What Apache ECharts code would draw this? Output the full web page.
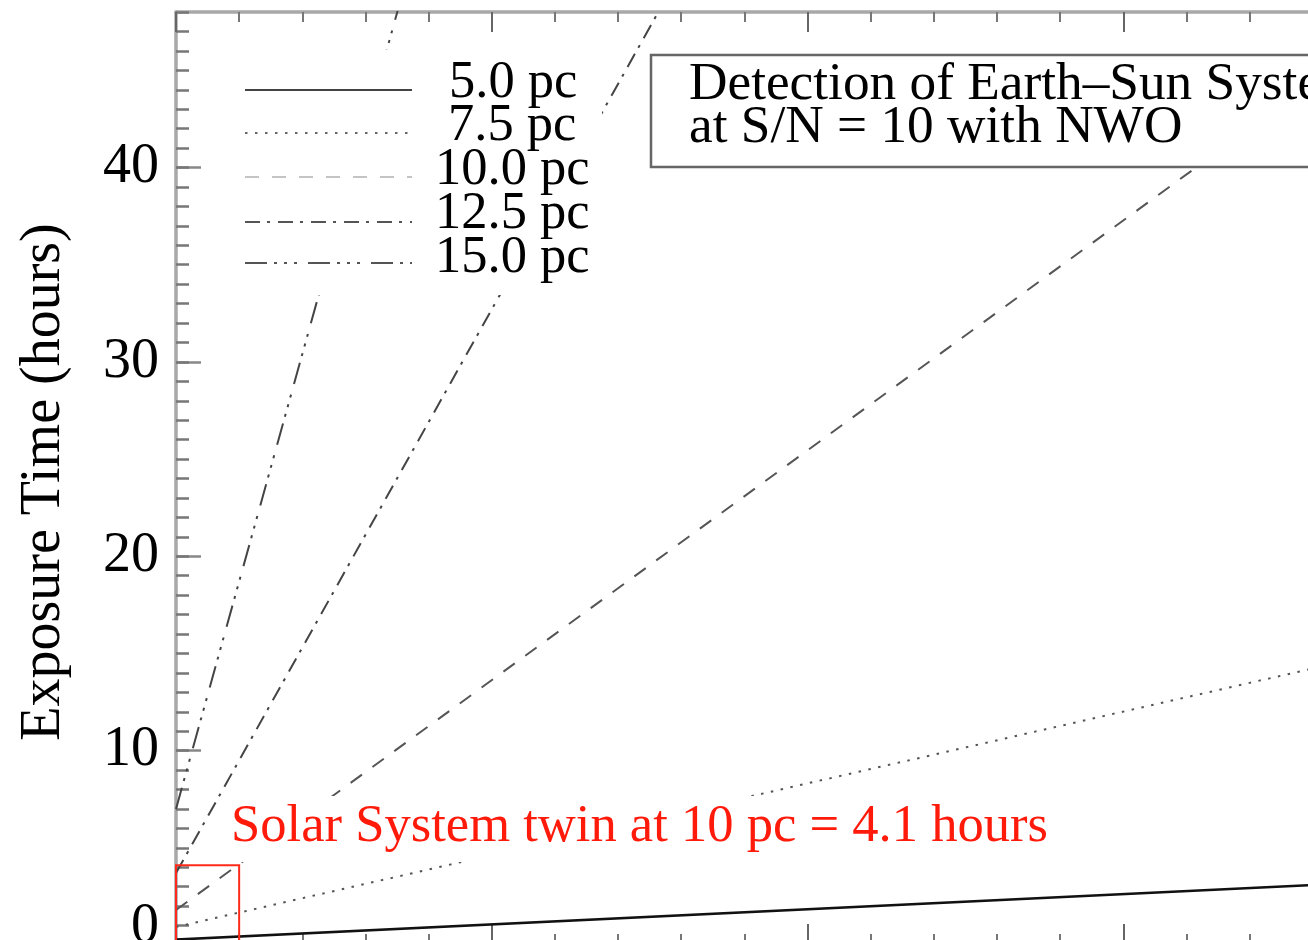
<!DOCTYPE html>
<html>
<head>
<meta charset="utf-8">
<script src="https://cdn.jsdelivr.net/npm/echarts@6/dist/echarts.min.js"></script>
<style>
  html, body { margin: 0; padding: 0; background: #fff; overflow: hidden; }
  #chart { width: 1308px; height: 940px; }
</style>
</head>
<body>
<div id="chart"></div>
<script>
// Exozodi level (zodis) at which each exposure-time curve is sampled
const exozodi = [0, 20];

// Exposure time (hours) to reach S/N = 10 on an Earth twin, per stellar distance
const hours5pc   = [0.28, 3.4];
const hours7p5pc = [0.93, 15.7];
const hours10pc  = [1.8, 49.1];
const hours12p5pc = [3.7, 119.7];
const hours15pc  = [7.0, 241.0];

const distanceLabels = ['5.0 pc', '7.5 pc', '10.0 pc', '12.5 pc', '15.0 pc'];
const yTickValues = [0, 10, 20, 30, 40];

// Solar System twin reference point
const twinZodi = 1;
const twinHours = 4.1;
const twinLabel = 'Solar System twin at 10 pc = 4.1 hours';

const titleLines = ['Detection of Earth\u2013Sun System', 'at S/N = 10 with NWO'];
const yAxisTitle = 'Exposure Time (hours)';

const SERIF = '"Liberation Serif", "Times New Roman", serif';

// Dash patterns for each distance curve
const dashStyles = [
  'solid',
  [2.5, 7.5],
  [14, 13],
  [15, 7, 3, 8],
  [22, 7, 3, 7, 3, 7, 3, 11]
];
const lineColors = ['#111', '#555', '#555', '#444', '#444'];
const lineWidths = [2.6, 2, 2, 2, 2];
const seriesValues = [hours5pc, hours7p5pc, hours10pc, hours12p5pc, hours15pc];

const chart = echarts.init(document.getElementById('chart'), null, { renderer: 'canvas' });

const series = seriesValues.map((vals, i) => {
  const s = {
    name: distanceLabels[i],
    type: 'line',
    data: exozodi.map((z, k) => [z, vals[k]]),
    showSymbol: false,
    symbol: 'none',
    clip: true,
    lineStyle: { color: lineColors[i], width: lineWidths[i], type: dashStyles[i] },
    z: 3
  };
  if (i === 2) {
    // Box marking the Solar System twin (1 zodi, 10 pc)
    s.markArea = {
      silent: true,
      z: 4,
      itemStyle: { color: 'rgba(0,0,0,0)', borderColor: '#ff2a1a', borderWidth: 2 },
      label: { show: false },
      data: [[{ coord: [0, 0] }, { coord: [twinZodi, twinHours] }]]
    };
  }
  return s;
});

// Legend rows
const legendRowY = [83, 126, 170, 214, 258];
const legendLineY = [90, 133, 177, 222, 263];
const legendTextX = [449, 448, 435, 435, 435];
const legendLineColors = ['#444', '#666', '#c4c4c4', '#555', '#555'];

const graphics = [
  { type: 'rect', shape: { x: 232, y: 50, width: 370, height: 245 }, style: { fill: '#fff' }, z: 50, silent: true }
];
distanceLabels.forEach((lab, i) => {
  graphics.push({
    type: 'line',
    shape: { x1: 245, y1: legendLineY[i], x2: 412, y2: legendLineY[i] },
    style: { stroke: legendLineColors[i], lineWidth: 2, lineDash: dashStyles[i] === 'solid' ? null : dashStyles[i] },
    z: 51, silent: true
  });
  graphics.push({
    type: 'text', x: legendTextX[i], y: legendRowY[i],
    style: { text: lab, font: '52.5px ' + SERIF, fill: '#000', align: 'left', verticalAlign: 'middle' },
    z: 52, silent: true
  });
});

// Title box
graphics.push({
  type: 'rect', shape: { x: 651, y: 55, width: 800, height: 112 },
  style: { fill: '#fff', stroke: '#666', lineWidth: 2.5 }, z: 50, silent: true
});
titleLines.forEach((t, i) => {
  graphics.push({
    type: 'text', x: 689, y: 85 + i * 43,
    style: { text: t, font: '53.3px ' + SERIF, fill: '#000', align: 'left', verticalAlign: 'middle' },
    z: 52, silent: true
  });
});

// Solar System twin annotation with an opaque backdrop
graphics.push({
  type: 'rect', shape: { x: 226, y: 796, width: 826, height: 66 },
  style: { fill: '#fff' }, z: 50, silent: true
});
graphics.push({
  type: 'text', x: 231, y: 827,
  style: { text: twinLabel, font: '52.6px ' + SERIF, fill: '#ff1a0a', align: 'left', verticalAlign: 'middle' },
  z: 52, silent: true
});

// Y axis title
graphics.push({
  type: 'text', x: 44, y: 482, rotation: Math.PI / 2,
  style: { text: yAxisTitle, font: '56px ' + SERIF, fill: '#000', align: 'center', verticalAlign: 'middle' },
  z: 52, silent: true
});

const axisLineStyle = { color: '#a8a8a8', width: 3.5 };

const xAxisCommon = {
  type: 'value', min: 0, max: 20, interval: 5,
  axisLine: { show: true, onZero: false, lineStyle: axisLineStyle },
  axisTick: { show: true, inside: true, length: 21, lineStyle: { color: '#666', width: 2 } },
  minorTick: { show: true, splitNumber: 5, length: 11, lineStyle: { color: '#777', width: 2 } },
  splitLine: { show: false },
  minorSplitLine: { show: false },
  axisLabel: { show: false }
};

const option = {
  animation: false,
  backgroundColor: '#fff',
  grid: { left: 176, top: 12, right: -131, bottom: -5, containLabel: false, outerBoundsMode: 'none' },
  xAxis: [
    Object.assign({ position: 'bottom' }, xAxisCommon),
    Object.assign({ position: 'top' }, xAxisCommon, {
      axisTick: { show: true, inside: true, length: 20, lineStyle: { color: '#666', width: 2 } },
      minorTick: { show: true, splitNumber: 5, length: 10, lineStyle: { color: '#777', width: 2 } }
    })
  ],
  yAxis: [
    {
      type: 'value', position: 'left', min: 0, max: 48, interval: 10,
      axisLine: { show: true, onZero: false, lineStyle: axisLineStyle },
      axisTick: { show: true, inside: true, length: 25, lineStyle: { color: '#888', width: 2.5 } },
      splitLine: { show: false },
      axisLabel: {
        show: true, inside: false, margin: 17, showMaxLabel: false,
        color: '#000', fontFamily: SERIF, fontSize: 56,
        formatter: v => (yTickValues.indexOf(v) < 0 ? '' : (v === 0 ? '{zero|0}' : String(v))),
        rich: { zero: { fontFamily: SERIF, fontSize: 56, color: '#000', padding: [0, 0, 36, 0] } }
      }
    },
    {
      type: 'value', position: 'left', min: 0, max: 48, interval: 1,
      axisLine: { show: false },
      axisTick: { show: true, inside: true, length: 13, lineStyle: { color: '#777', width: 2.5 } },
      splitLine: { show: false },
      axisLabel: { show: false }
    }
  ],
  series: series,
  graphic: { elements: graphics }
};

chart.setOption(option);
</script>
</body>
</html>
